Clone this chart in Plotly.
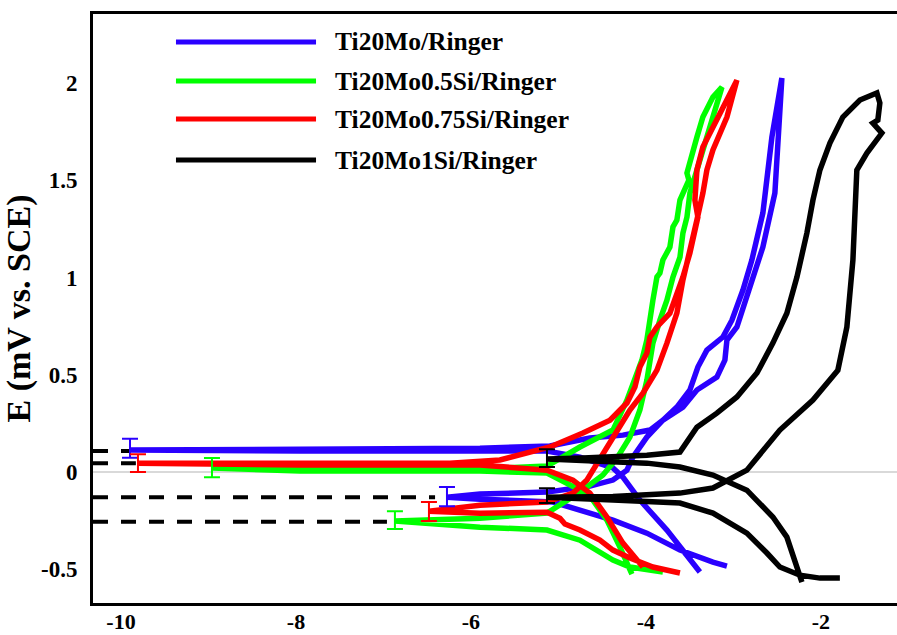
import plotly.graph_objects as go

# ---------------- data (log i, E) ----------------
blue_x = [-3.074, -3.234, -3.611, -3.989, -4.377, -4.754, -5.063, -5.897, -6.274,
          -5.897, -5.131, -4.640, -4.377, -4.217, -4.149, -3.989, -3.806, -3.577, -3.417,
          -3.189, -3.097, -3.074, -2.960, -2.834, -2.663, -2.526, -2.491, -2.446,
          -2.560, -2.663, -2.789, -2.891, -3.017, -3.120, -3.303, -3.406, -3.497, -3.646,
          -3.806, -3.954, -4.263, -4.640, -5.097, -5.897, -7.954, -9.897,
          -7.954, -5.897, -5.131, -4.754, -4.377, -4.263, -4.069, -3.760, -3.383]
blue_y = [-0.483, -0.463, -0.401, -0.314, -0.247, -0.195, -0.154, -0.139, -0.129,
          -0.113, -0.103, -0.072, -0.041, 0.010, 0.077, 0.180, 0.267, 0.334, 0.422,
          0.488, 0.576, 0.679, 0.746, 0.920, 1.157, 1.434, 1.722, 2.026,
          1.722, 1.332, 1.090, 0.936, 0.781, 0.694, 0.627, 0.540, 0.422, 0.334,
          0.267, 0.216, 0.190, 0.175, 0.134, 0.123, 0.118, 0.113,
          0.108, 0.113, 0.108, 0.077, 0.021, -0.026, -0.144, -0.298, -0.514]

green_x = [-3.806, -4.183, -4.377, -4.560, -4.754, -5.131, -5.897, -6.869,
           -5.897, -5.131, -4.754, -4.491, -4.331, -4.183, -4.069, -3.989, -3.920, -3.840,
           -3.760, -3.691, -3.611, -3.577, -3.531, -3.497, -3.417, -3.349, -3.234, -3.131,
           -3.234, -3.349, -3.417, -3.497, -3.531, -3.509, -3.611, -3.646, -3.691, -3.726,
           -3.806, -3.840, -3.874, -3.920, -3.954, -3.989, -4.046, -4.126, -4.217, -4.297,
           -4.377, -4.754, -5.131, -5.897, -7.954, -8.960,
           -7.954, -5.897, -5.131, -4.754, -4.606, -4.446, -4.297, -4.160]
green_y = [-0.514, -0.488, -0.452, -0.401, -0.350, -0.298, -0.283, -0.252,
           -0.237, -0.211, -0.103, -0.015, 0.072, 0.180, 0.319, 0.473, 0.663, 0.781,
           0.884, 1.003, 1.105, 1.229, 1.311, 1.434, 1.553, 1.671, 1.846, 1.979,
           1.928, 1.825, 1.722, 1.604, 1.537, 1.501, 1.398, 1.296, 1.260, 1.157,
           1.090, 1.023, 1.003, 0.884, 0.766, 0.679, 0.576, 0.473, 0.370, 0.293,
           0.216, 0.129, 0.031, 0.015, 0.015, 0.021,
           0.005, 0.005, -0.005, -0.093, -0.144, -0.247, -0.386, -0.524]

red_x = [-3.611, -3.920, -4.183, -4.377, -4.526, -4.754, -4.926, -4.983, -5.131, -5.897, -6.480,
         -5.897, -5.131, -4.834, -4.674, -4.446, -4.331, -4.183, -4.034, -3.874, -3.760,
         -3.646, -3.577, -3.497, -3.417, -3.349, -3.303, -3.234, -3.074, -2.960,
         -3.074, -3.234, -3.349, -3.417, -3.440, -3.406, -3.440, -3.497, -3.577, -3.646,
         -3.726, -3.874, -3.954, -3.989, -4.069, -4.126, -4.217, -4.411, -4.720, -5.097,
         -5.669, -6.240, -7.954, -9.806,
         -7.954, -5.897, -5.131, -4.834, -4.640, -4.446, -4.263, -4.034]
red_y = [-0.519, -0.488, -0.442, -0.401, -0.350, -0.298, -0.267, -0.237, -0.206, -0.211, -0.201,
         -0.170, -0.154, -0.108, -0.041, 0.129, 0.216, 0.319, 0.406, 0.524, 0.663,
         0.817, 0.987, 1.157, 1.296, 1.434, 1.553, 1.656, 1.825, 2.015,
         1.913, 1.774, 1.671, 1.553, 1.398, 1.311, 1.229, 1.126, 1.003, 0.920,
         0.817, 0.746, 0.694, 0.612, 0.540, 0.437, 0.355, 0.267, 0.201, 0.129,
         0.062, 0.046, 0.046, 0.046,
         0.036, 0.036, 0.010, -0.041, -0.108, -0.231, -0.365, -0.488]

black_x = [-1.783, -2.011, -2.240, -2.469, -2.617, -2.846, -3.234, -3.611, -4.377, -5.131,
           -4.377, -3.611, -3.234, -2.846, -2.469, -2.091, -1.806, -1.703, -1.634, -1.611,
           -1.589, -1.474, -1.303, -1.406, -1.349, -1.326, -1.360,
           -1.554, -1.749, -1.897, -2.011, -2.091, -2.160, -2.274, -2.389, -2.549, -2.731,
           -2.960, -3.189, -3.417, -3.611, -3.989, -4.331, -4.720, -5.131,
           -3.989, -3.611, -3.234, -2.846, -2.549, -2.389, -2.274, -2.217]
black_y = [-0.545, -0.545, -0.530, -0.488, -0.416, -0.314, -0.211, -0.159, -0.144, -0.129,
           -0.126, -0.108, -0.082, 0.010, 0.216, 0.370, 0.524, 0.746, 1.090, 1.434,
           1.553, 1.640, 1.743, 1.794, 1.810, 1.897, 1.949,
           1.913, 1.825, 1.692, 1.553, 1.398, 1.229, 1.003, 0.817, 0.663, 0.509,
           0.386, 0.303, 0.231, 0.103, 0.087, 0.077, 0.072, 0.067,
           0.046, 0.026, -0.015, -0.093, -0.231, -0.334, -0.488, -0.566]

series_names = ["Ti20Mo/Ringer", "Ti20Mo0.5Si/Ringer", "Ti20Mo0.75Si/Ringer", "Ti20Mo1Si/Ringer"]
series_colors = ["#2a00ff", "#00ff00", "#ff0000", "#000000"]

# Ecorr markers with error bars (log i, E, error)
err_x = [-9.897, -8.960, -9.806, -5.131, -6.274, -6.869, -6.480, -5.131]
err_y = [0.123, 0.023, 0.046, 0.072, -0.126, -0.247, -0.203, -0.121]
err_e = [0.049, 0.049, 0.046, 0.046, 0.049, 0.046, 0.049, 0.038]
err_colors = ["#2a00ff", "#00ff00", "#ff0000", "#000000", "#2a00ff", "#00ff00", "#ff0000", "#000000"]

# Dashed Ecorr reference lines (E level, end log i)
dash_y = [0.108, 0.046, -0.129, -0.255]
dash_end = [-9.90, -9.83, -6.41, -6.96]

x_range = [-10.32, -1.13]
y_range = [-0.673, 2.355]
x_ticks = [-10, -8, -6, -4, -2]
y_ticks = [-0.5, 0, 0.5, 1, 1.5, 2]
y_tick_text = ["-0.5", "0", "0.5", "1", "1.5", "2"]

FONT = "Liberation Serif"

fig = go.Figure()

for dy, de in zip(dash_y, dash_end):
    fig.add_trace(go.Scatter(x=[x_range[0], de], y=[dy, dy], mode="lines",
                             line=dict(color="black", width=4, dash="15px,13px"),
                             showlegend=False, hoverinfo="skip"))

curves = [(blue_x, blue_y), (green_x, green_y), (red_x, red_y), (black_x, black_y)]
for (cx, cy), name, col in zip(curves, series_names, series_colors):
    fig.add_trace(go.Scatter(x=cx, y=cy, mode="lines", name=name,
                             line=dict(color=col, width=5.5), showlegend=False))

for ex, ey, ee, ec in zip(err_x, err_y, err_e, err_colors):
    fig.add_trace(go.Scatter(x=[ex], y=[ey], mode="markers",
                             marker=dict(size=2, color=ec, opacity=0),
                             error_y=dict(type="data", array=[ee], color=ec, thickness=2, width=8),
                             showlegend=False, hoverinfo="skip"))

# manual legend (long line samples)
leg_y = [0.9525, 0.8862, 0.8217, 0.7521]
shapes = []
annotations = []
for ly, name, col in zip(leg_y, series_names, series_colors):
    shapes.append(dict(type="line", xref="paper", yref="paper", x0=0.1032, x1=0.2774,
                       y0=ly, y1=ly, line=dict(color=col, width=5)))
    annotations.append(dict(xref="paper", yref="paper", x=0.2985, y=ly, text=name,
                            showarrow=False, xanchor="left", yanchor="middle",
                            font=dict(family=FONT, size=25.5, color="black", weight="bold")))

fig.update_layout(
    width=897, height=635,
    margin=dict(l=93, r=0, t=14, b=32),
    paper_bgcolor="white", plot_bgcolor="white",
    shapes=shapes, annotations=annotations,
    showlegend=False,
    xaxis=dict(range=x_range, tickvals=x_ticks, ticktext=[str(v) for v in x_ticks],
               showgrid=False, zeroline=False, showline=True, linecolor="black",
               linewidth=3, mirror=True, ticks="", automargin=False,
               ticklabelstandoff=-3,
               tickfont=dict(family=FONT, size=22, color="black", weight="bold")),
    yaxis=dict(range=y_range, tickvals=y_ticks, ticktext=y_tick_text,
               showgrid=False, zeroline=True, zerolinecolor="#d9d9d9", zerolinewidth=1.5,
               showline=True, linecolor="black", linewidth=3, mirror=False, ticks="",
               ticklabelstandoff=8, automargin=False,
               tickfont=dict(family=FONT, size=23, color="black", weight="bold"),
               title=dict(text="E (mV vs. SCE)", standoff=10,
                          font=dict(family=FONT, size=34, color="black", weight="bold"))),
)

fig.write_html("out.html", config={"displayModeBar": False},
               post_script="document.body.style.margin='0';document.body.style.padding='0';")
